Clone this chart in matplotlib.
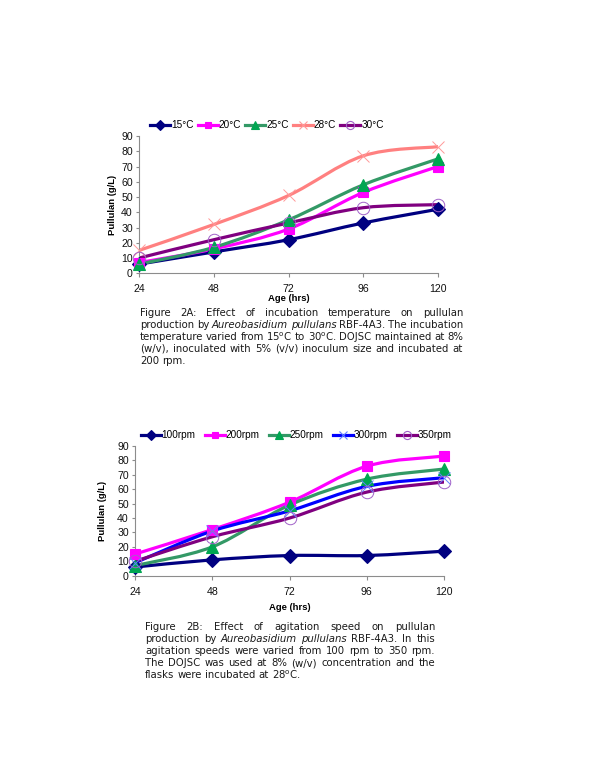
import matplotlib
matplotlib.use('Agg')
import matplotlib.pyplot as plt
from matplotlib.lines import Line2D
from matplotlib.path import Path
from matplotlib.patches import PathPatch

# data
ages = [24, 48, 72, 96, 120]

temp_labels = ['15°C', '20°C', '25°C', '28°C', '30°C']
t15 = [6, 14, 22, 33, 42]
t20 = [7, 16, 29, 53, 70]
t25 = [6, 17, 35, 58, 75]
t28 = [15, 32, 51, 77, 83]
t30 = [10, 22, 33, 43, 45]

rpm_labels = ['100rpm', '200rpm', '250rpm', '300rpm', '350rpm']
r100 = [6, 11, 14, 14, 17]
r200 = [15, 32, 51, 76, 83]
r250 = [7, 20, 49, 67, 74]
r300 = [9, 31, 45, 62, 68]
r350 = [10, 27, 40, 58, 65]

yticks = [0, 10, 20, 30, 40, 50, 60, 70, 80, 90]

cap_a = [
    "Figure 2A: Effect of incubation temperature on pullulan",
    "production by _Aureobasidium_ _pullulans_ RBF-4A3. The incubation",
    r"temperature varied from 15$^\mathrm{o}$C to 30$^\mathrm{o}$C. DOJSC maintained at 8%",
    "(w/v), inoculated with 5% (v/v) inoculum size and incubated at",
    "200 rpm.",
]
cap_b = [
    "Figure 2B: Effect of agitation speed on pullulan",
    "production by _Aureobasidium_ _pullulans_ RBF-4A3. In this",
    "agitation speeds were varied from 100 rpm to 350 rpm.",
    "The DOJSC was used at 8% (w/v) concentration and the",
    r"flasks were incubated at 28$^\mathrm{o}$C.",
]

W, H = 600, 776
fig = plt.figure(figsize=(6, 7.76), dpi=100)
fig.patch.set_facecolor('white')

tick_font = 'Liberation Sans'

# (color, marker, size, filled, edge color)
styles_a = [
    ('#000080', 'D', 7.5, True, '#000080'),
    ('#FF00FF', 's', 6.5, True, '#FF00FF'),
    ('#339966', '^', 8.5, True, '#00A651'),
    ('#FF8080', 'x', 9, False, '#FF9999'),
    ('#800080', 'o', 9, False, '#A060C8'),
]
styles_b = [
    ('#000080', 'D', 7.5, True, '#000080'),
    ('#FF00FF', 's', 6.5, True, '#FF00FF'),
    ('#339966', '^', 8.5, True, '#00A651'),
    ('#0000FF', 'x', 9, False, '#6080FF'),
    ('#800080', 'o', 9, False, '#A060C8'),
]


def smooth_path(xs, ys):
    # bezier curve through the points (like Excel smoothed lines)
    pts = list(zip(xs, ys))
    n = len(pts)
    verts = [pts[0]]
    codes = [Path.MOVETO]
    for i in range(n - 1):
        p0 = pts[max(i - 1, 0)]
        p1 = pts[i]
        p2 = pts[i + 1]
        p3 = pts[min(i + 2, n - 1)]
        c1 = (p1[0] + (p2[0] - p0[0]) / 6, p1[1] + (p2[1] - p0[1]) / 6)
        c2 = (p2[0] - (p3[0] - p1[0]) / 6, p2[1] - (p3[1] - p1[1]) / 6)
        verts += [c1, c2, p2]
        codes += [Path.CURVE4] * 3
    return Path(verts, codes)


def make_chart(rect, series, labels, styles, ylab_x, xlab_y, leg_xy, colsp):
    ax = fig.add_axes(rect)
    handles = []
    for ys, lab, (c, m, ms, filled, ec) in zip(series, labels, styles):
        ax.add_patch(PathPatch(smooth_path(ages, ys), fill=False, edgecolor=c,
                               lw=2.3, capstyle='round', joinstyle='round'))
        ax.plot(ages, ys, linestyle='none', marker=m, ms=ms,
                mfc=(ec if filled else 'none'), mec=ec,
                mew=(0.8 if filled else 0.7), clip_on=False, zorder=3)
        handles.append(Line2D([], [], color=c, lw=2.3, marker=m,
                              ms=ms * 0.65, mfc=(ec if filled else 'none'),
                              mec=ec, mew=0.8, label=lab))
    ax.set_xlim(24, 120)
    ax.set_ylim(0, 90)
    ax.set_xticks(ages)
    ax.set_yticks(yticks)
    for s in ['top', 'right']:
        ax.spines[s].set_visible(False)
    for s in ['left', 'bottom']:
        ax.spines[s].set_color('#8c8c8c')
        ax.spines[s].set_linewidth(0.8)
    ax.tick_params(axis='both', colors='#8c8c8c', labelcolor='#111111',
                   width=0.8, labelsize=7.6)
    ax.tick_params(axis='x', length=3, pad=5)
    ax.tick_params(axis='y', length=2.5, pad=2)
    for t in ax.get_xticklabels() + ax.get_yticklabels():
        t.set_fontfamily(tick_font)
    ax.set_ylabel('Pullulan (g/L)', fontsize=6.8, fontweight='bold',
                  fontfamily=tick_font)
    ax.set_xlabel('Age (hrs)', fontsize=6.8, fontweight='bold',
                  fontfamily=tick_font)
    ax.yaxis.set_label_coords(ylab_x, 0.5)
    ax.yaxis.label.set_va('center')
    ax.xaxis.set_label_coords(0.5, xlab_y)
    ax.xaxis.label.set_va('center')
    fig.legend(handles=handles, loc='center', ncol=5, frameon=False,
               bbox_to_anchor=(leg_xy[0] / W, 1 - leg_xy[1] / H),
               prop={'family': tick_font, 'size': 7.2},
               handlelength=2.0, handletextpad=0.1, columnspacing=colsp,
               borderaxespad=0, borderpad=0)
    return ax


def px_rect(left, right, top, bottom):
    return [left / W, 1 - bottom / H, (right - left) / W, (bottom - top) / H]


make_chart(px_rect(139, 438, 136, 273.3),
           [t15, t20, t25, t28, t30], temp_labels, styles_a,
           -0.09, -0.187, (267, 125), 0.4)
make_chart(px_rect(135, 444, 446, 575.7),
           [r100, r200, r250, r300, r350], rpm_labels, styles_b,
           -0.104, -0.249, (296, 435), 0.9)


def justified(lines, x0, x1, y0, dy, size=7.3):
    r = fig.canvas.get_renderer()
    for i, line in enumerate(lines):
        y = 1 - (y0 + i * dy) / H
        items = []
        for w in line.split():
            italic = w.startswith('_')
            txt = w.replace('_', '')
            t = fig.text(0, y, txt, fontsize=size, va='center', ha='left',
                         style=('italic' if italic else 'normal'),
                         fontfamily='DejaVu Sans', color='#1a1a1a')
            items.append(t)
        widths = [t.get_window_extent(r).width for t in items]
        if i == len(lines) - 1:
            gap = size * 100 / 72 * 0.32
        else:
            gap = (x1 - x0 - sum(widths)) / (len(items) - 1)
        x = x0
        for t, wd in zip(items, widths):
            t.set_x(x / W)
            x += wd + gap


justified(cap_a, 140, 463, 313.5, 11.8)
justified(cap_b, 145, 435, 627.5, 11.9)

fig.savefig('out.png', dpi=100, facecolor='white')
